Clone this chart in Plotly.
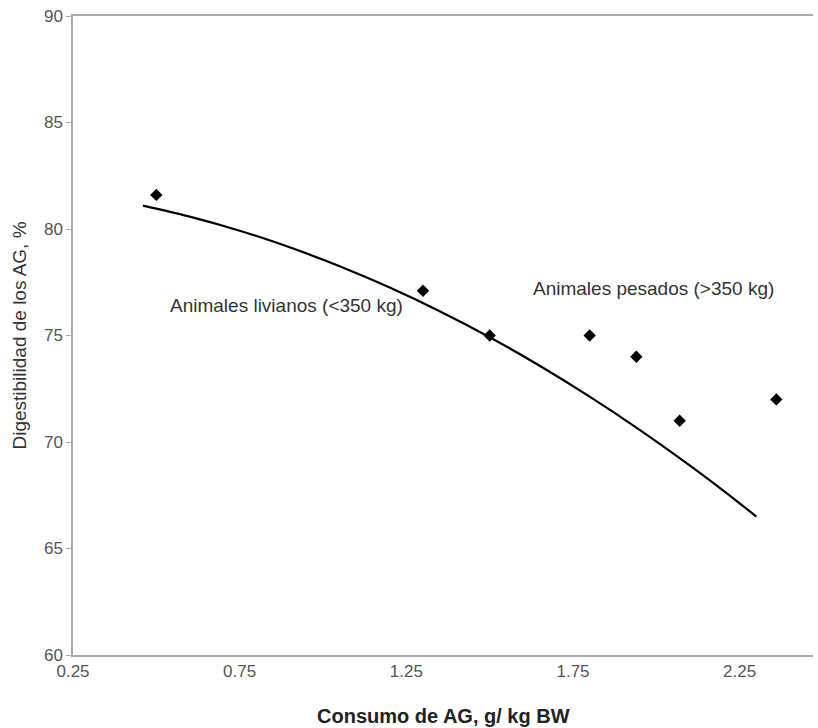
import plotly.graph_objects as go

# Observed points
pts_x = [0.50, 1.30, 1.50, 1.80, 1.94, 2.07, 2.36]
pts_y = [81.6, 77.1, 75.0, 75.0, 74.0, 71.0, 72.0]

# Fitted curve
curve_x = [0.46, 0.60, 0.75, 0.90, 1.05, 1.20, 1.35, 1.50, 1.65, 1.80, 1.95, 2.10, 2.20, 2.30]
curve_y = [81.10, 80.58, 79.92, 79.14, 78.25, 77.25, 76.14, 74.92, 73.58, 72.13, 70.57, 68.90, 67.73, 66.50]

x_ticks = [0.25, 0.75, 1.25, 1.75, 2.25]
x_tick_labels = ["0.25", "0.75", "1.25", "1.75", "2.25"]
y_ticks = [60, 65, 70, 75, 80, 85, 90]

labels = ["Animales livianos (<350 kg)", "Animales pesados (>350 kg)"]
label_x = [0.89, 1.99]
label_y = [76.4, 77.2]

font_main = "Liberation Sans, Arial, sans-serif"

fig = go.Figure()
fig.add_trace(go.Scatter(x=curve_x, y=curve_y, mode="lines",
                         line=dict(color="black", width=2.2, shape="spline"),
                         showlegend=False, hoverinfo="skip"))
fig.add_trace(go.Scatter(x=pts_x, y=pts_y, mode="markers",
                         marker=dict(symbol="diamond", color="black", size=9.5),
                         showlegend=False))

for t, lx, ly in zip(labels, label_x, label_y):
    fig.add_annotation(x=lx, y=ly, text=t, showarrow=False,
                       font=dict(family=font_main, size=19, color="#333333"))

fig.add_annotation(xref="paper", yref="paper", x=0.5, y=-0.075,
                   text="<b>Consumo de AG, g/ kg BW</b>", showarrow=False,
                   yanchor="top",
                   font=dict(family="Liberation Sans Narrow, Arial Narrow, sans-serif", size=20, color="#222222"))

fig.update_layout(
    width=818, height=728,
    margin=dict(l=73, r=5, t=16, b=73),
    paper_bgcolor="white", plot_bgcolor="white",
    font=dict(family=font_main, size=16, color="#555555"),
)
fig.update_xaxes(range=[0.25, 2.47], tickvals=x_ticks, ticktext=x_tick_labels,
                 showgrid=False, zeroline=False, showline=True, linecolor="#aaaaaa",
                 linewidth=1.5, mirror=True, ticks="", tickfont=dict(size=17, color="#555555"))
fig.update_yaxes(range=[60, 90], tickvals=y_ticks, showgrid=False, zeroline=False,
                 showline=True, linecolor="#aaaaaa", linewidth=1.5, ticks="outside",
                 ticklen=5, tickcolor="#aaaaaa",
                 title=dict(text="Digestibilidad de los AG, %", standoff=12,
                            font=dict(family=font_main, size=19, color="#333333")),
                 tickfont=dict(size=17, color="#555555"))

fig.write_html("out.html")
